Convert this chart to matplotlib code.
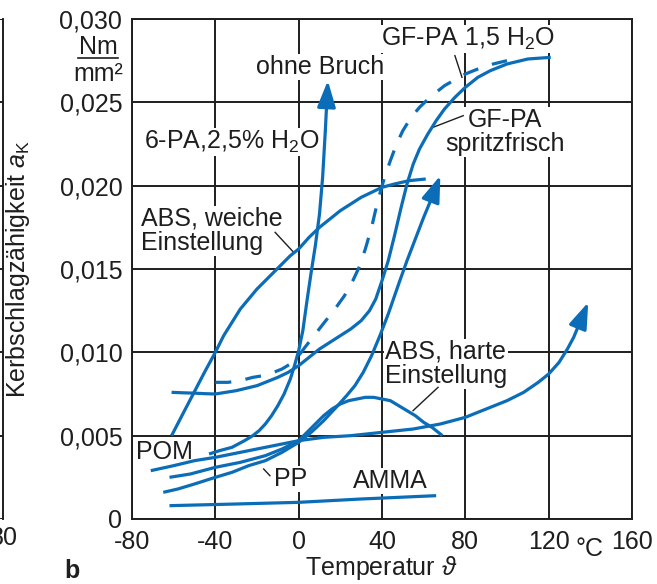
import matplotlib
matplotlib.use("Agg")
import matplotlib.pyplot as plt
from matplotlib.lines import Line2D

plt.rcParams["font.family"] = ["Liberation Sans", "DejaVu Sans"]
plt.rcParams["mathtext.fontset"] = "custom"
plt.rcParams["mathtext.rm"] = "Liberation Sans"
plt.rcParams["mathtext.it"] = "Liberation Sans:italic"

BLUE = "#0b6db7"
INK = "#1e1e1e"
FS = 18

# --- data ---
x_ticks = [-80, -40, 0, 40, 80, 120, 160]
x_tick_labels = ["-80", "-40", "0", "40", "80", "120", "160"]
y_ticks = [0, 0.005, 0.010, 0.015, 0.020, 0.025, 0.030]
y_tick_labels = ["0", "0,005", "0,010", "0,015", "0,020", "0,025", "0,030"]

abs_soft_x = [-61, -55, -50, -45, -40, -36, -32, -28, -24, -20, -16, -12, -8,
              -4, 0, 5, 10, 15, 20, 25, 30, 35, 40, 46, 53, 61]
abs_soft_y = [0.0050, 0.00645, 0.00765, 0.00885, 0.0100, 0.0110, 0.0118, 0.0126,
              0.0132, 0.0138, 0.0143, 0.0148, 0.0153, 0.0158, 0.0162, 0.0169,
              0.0175, 0.0180, 0.0185, 0.0189, 0.0193, 0.0196, 0.0199, 0.0201,
              0.0203, 0.0204]

gfpa_fresh_x = [-61, -55, -50, -45, -40, -35, -30, -25, -20, -15, -10, -5, 0,
                5, 10, 15, 20, 25, 30, 34, 37, 40, 43, 46, 49, 52, 55, 58, 62,
                66, 70, 75, 80, 86, 92, 100, 110, 121]
gfpa_fresh_y = [0.0076, 0.00757, 0.00755, 0.00752, 0.0075, 0.0076, 0.0077,
                0.00785, 0.0080, 0.00825, 0.0085, 0.0088, 0.0092, 0.0097, 0.0102,
                0.0106, 0.0110, 0.0114, 0.0119, 0.0125, 0.0132, 0.0143, 0.0155,
                0.0170, 0.0186, 0.0201, 0.0213, 0.0222, 0.0231, 0.0239, 0.0246,
                0.0253, 0.0259, 0.0265, 0.0269, 0.0273, 0.0276, 0.0277]

gfpa_wet_x = [-40, -34, -28, -22, -17, -12, -8, -4, 0, 3, 8, 13, 18, 22, 26, 29,
              32, 35, 38, 41, 44, 47, 50, 54, 58, 63, 70, 80, 90, 100]
gfpa_wet_y = [0.0082, 0.0082, 0.0083, 0.0085, 0.0086, 0.0088, 0.0090, 0.0093,
              0.0098, 0.0103, 0.0111, 0.0119, 0.0127, 0.0134, 0.0143, 0.0151,
              0.0162, 0.0175, 0.0191, 0.0204, 0.0215, 0.0225, 0.0233, 0.0241,
              0.0247, 0.0253, 0.0260, 0.0267, 0.0272, 0.0275]

pa6_x = [-43, -38, -32, -26, -22, -19, -16, -13, -10, -7, -4, -2, 0, 2, 4, 6, 8,
         10, 11.5, 12.8, 14]
pa6_y = [0.0039, 0.0041, 0.0043, 0.0047, 0.0050, 0.0053, 0.0057, 0.0062, 0.0068,
         0.0075, 0.0084, 0.0092, 0.0101, 0.0113, 0.0131, 0.0148, 0.0164, 0.0183,
         0.0205, 0.0233, 0.0263]

pp_x = [-65, -58, -50, -40, -32, -24, -16, -8, 0, 6, 12, 18, 23, 27, 31, 35, 39,
        43, 48, 52, 56, 60, 64, 68]
pp_y = [0.0016, 0.0018, 0.0021, 0.0025, 0.0028, 0.0032, 0.0035, 0.0040, 0.0046,
        0.0052, 0.0059, 0.0067, 0.0074, 0.0080, 0.0088, 0.0098, 0.0110, 0.0123,
        0.0141, 0.0155, 0.0168, 0.0181, 0.0193, 0.0206]

abs_hard_x = [-62, -52, -40, -28, -16, -8, 0, 4, 8, 12, 16, 20, 24, 28, 32, 36,
              40, 44, 48, 52, 56, 60, 64, 69]
abs_hard_y = [0.0025, 0.0027, 0.0031, 0.0034, 0.0038, 0.0042, 0.0047, 0.0052,
              0.0057, 0.0062, 0.0066, 0.0069, 0.0071, 0.0072, 0.0073, 0.0073,
              0.0072, 0.0071, 0.0068, 0.0065, 0.0062, 0.0058, 0.0055, 0.0050]

pom_x = [-71, -60, -50, -40, -28, -16, -8, 0, 12, 25, 40, 55, 68, 80, 90, 100,
         108, 115, 120, 125, 129, 132, 135, 139]
pom_y = [0.0029, 0.0032, 0.0035, 0.0037, 0.0040, 0.0043, 0.0045, 0.0047, 0.0049,
         0.0050, 0.0052, 0.0054, 0.0057, 0.0061, 0.0066, 0.0071, 0.0076, 0.0082,
         0.0087, 0.0094, 0.0102, 0.0109, 0.0118, 0.0130]

amma_x = [-62, -30, 0, 30, 66]
amma_y = [0.0008, 0.0009, 0.0010, 0.0012, 0.0014]


def curve(ax, xs, ys, arrow=False, dashed=False):
    n = len(xs) - 1 if arrow else len(xs)
    line, = ax.plot(xs[:n], ys[:n], color=BLUE, lw=2.3, zorder=3,
                    solid_capstyle="butt", dash_capstyle="butt",
                    solid_joinstyle="round")
    if dashed:
        line.set_dashes((5, 4.5))
    if arrow:
        ax.annotate("", xy=(xs[-1], ys[-1]), xytext=(xs[-2], ys[-2]),
                    arrowprops=dict(arrowstyle="-|>,head_length=0.8,head_width=0.28",
                                    mutation_scale=20, color=BLUE, lw=2.3,
                                    shrinkA=0, shrinkB=0),
                    zorder=3)


def label(ax, x, y, s, ha="left"):
    ax.text(x, y, s, fontsize=FS, color=INK, ha=ha, va="center", zorder=2,
            linespacing=1.0,
            bbox=dict(facecolor="white", edgecolor="none", pad=0.8))


def leader(ax, xs, ys):
    ax.plot(xs, ys, color=INK, lw=1.0, zorder=2.5)


fig = plt.figure(figsize=(6.57, 5.84), dpi=100)
ax = fig.add_axes([132 / 657, 65 / 584, 500 / 657, 500 / 584])

ax.set_xlim(-80, 160)
ax.set_ylim(0, 0.030)
ax.set_xticks(x_ticks)
ax.set_xticklabels(x_tick_labels)
ax.set_yticks(y_ticks)
ax.set_yticklabels(y_tick_labels)
ax.tick_params(length=0, labelsize=FS, colors=INK, pad=7)
ax.tick_params(axis="x", pad=8)
ax.grid(True, color=INK, lw=1.4)
ax.set_axisbelow(True)
for sp in ax.spines.values():
    sp.set_color(INK)
    sp.set_linewidth(1.4)

curve(ax, abs_soft_x, abs_soft_y)
curve(ax, gfpa_fresh_x, gfpa_fresh_y)
curve(ax, gfpa_wet_x, gfpa_wet_y, dashed=True)
curve(ax, pa6_x, pa6_y, arrow=True)
curve(ax, pp_x, pp_y, arrow=True)
curve(ax, abs_hard_x, abs_hard_y)
curve(ax, pom_x, pom_y, arrow=True)
curve(ax, amma_x, amma_y)

# labels
label(ax, 10.5, 0.0271, "ohne Bruch", ha="center")
label(ax, -32, 0.0226, "6-PA,2,5% H$_2$O", ha="center")
label(ax, -75.5, 0.0173, "ABS, weiche\nEinstellung")
leader(ax, [-11.3, -2.4], [0.0172, 0.0160])
label(ax, -64.2, 0.0040, "POM", ha="center")
label(ax, -3.7, 0.0024, "PP", ha="center")
leader(ax, [-16.8, -13.8], [0.0030, 0.0026])
label(ax, 43.8, 0.0023, "AMMA", ha="center")
label(ax, 41.4, 0.0093, "ABS, harte\nEinstellung")
leader(ax, [66.9, 54.9], [0.0079, 0.0065])
label(ax, 81.3, 0.0288, "GF-PA 1,5 H$_2$O", ha="center")
leader(ax, [75.0, 78.4], [0.0278, 0.0265])
label(ax, 99, 0.0232, "GF-PA\nspritzfrisch", ha="center")
leader(ax, [64.5, 79.0], [0.0235, 0.0242])

# unit and axis titles
ax.text(-96.3, 0.0283, "Nm", fontsize=FS, color=INK, ha="center", va="center",
        clip_on=False)
ax.text(-96.3, 0.0267, "mm²", fontsize=FS, color=INK, ha="center", va="center",
        clip_on=False)
ax.add_line(Line2D([-106, -86.7], [0.02766, 0.02766], color=INK, lw=1.2,
                   clip_on=False))
ax.text(139.8, -0.0011, "°C", fontsize=FS, color=INK, ha="center", va="top",
        clip_on=False)

ax.set_ylabel("Kerbschlagzähigkeit $a_{\\mathrm{K}}$", fontsize=FS, color=INK)
ax.yaxis.set_label_coords(-0.2, 0.5)
ax.text(0.498, -0.098, "Temperatur $\\vartheta$", transform=ax.transAxes,
        fontsize=FS, color=INK, ha="center", va="center")
fig.text(72 / 657, 1 - 571 / 584, "b", fontsize=FS, fontweight="bold",
         color=INK, ha="center", va="center")

# edge of the neighbouring panel
ax0 = fig.add_axes([-100 / 657, 65 / 584, 103 / 657, 500 / 584])
ax0.set_xlim(0, 1)
ax0.set_ylim(0, 0.030)
ax0.set_yticks(y_ticks)
ax0.set_xticks([])
ax0.tick_params(length=0, labelleft=False)
ax0.grid(True, axis="y", color=INK, lw=1.4)
for side, sp in ax0.spines.items():
    sp.set_visible(side == "right")
    sp.set_color(INK)
    sp.set_linewidth(1.4)
fig.text(18 / 657, 1 - 538 / 584, "80", fontsize=FS, color=INK,
         ha="right", va="center")

fig.savefig("out.png", dpi=100)
